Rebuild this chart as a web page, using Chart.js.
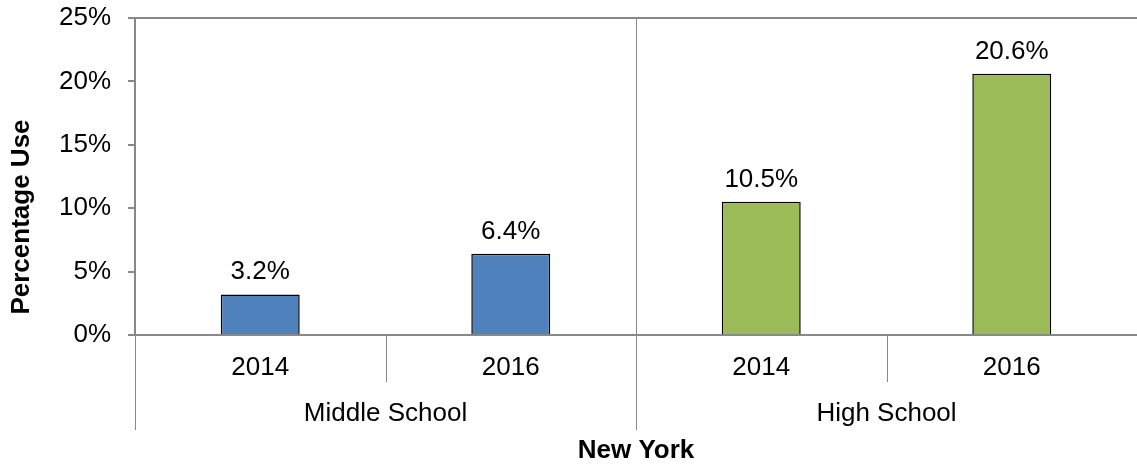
<!DOCTYPE html>
<html>
<head>
<meta charset="utf-8">
<script src="https://cdn.jsdelivr.net/npm/chart.js@4"></script>
<style>
    html, body { margin: 0; padding: 0; background: #fff; }
    #wrap { width: 1137px; height: 466px; }
</style>
</head>
<body>
<div id="wrap"><canvas id="useChart"></canvas></div>
<script>
// chart values
var years = ['2014', '2016', '2014', '2016'];
var groups = ['Middle School', 'High School'];
var groupSize = [2, 2];
var useValues = [3.2, 6.4, 10.5, 20.6];
var barColors = ['#4F81BD', '#4F81BD', '#9BBB59', '#9BBB59'];
var yTicks = [0, 5, 10, 15, 20, 25];
var yTitle = 'Percentage Use';
var xTitle = 'New York';

var FONT = "'Liberation Sans', Arial, sans-serif";
var GRAY = '#888888';

// draws the value labels, category separators, group labels and y title
var extrasPlugin = {
    id: 'extras',
    afterDraw: function (chart) {
        var ctx = chart.ctx;
        var x = chart.scales.x;
        var area = chart.chartArea;
        var meta = chart.getDatasetMeta(0);

        ctx.save();
        ctx.font = '26px ' + FONT;
        ctx.fillStyle = '#000';
        ctx.textAlign = 'center';
        ctx.textBaseline = 'alphabetic';
        meta.data.forEach(function (bar, i) {
            ctx.fillText(useValues[i].toFixed(1) + '%', bar.x, bar.y - 15);
        });

        ctx.strokeStyle = GRAY;
        ctx.lineWidth = 1;
        var half = (x.getPixelForValue(1) - x.getPixelForValue(0)) / 2;
        var start = 0;
        // left axis extension
        ctx.beginPath();
        ctx.moveTo(area.left + 0.5, area.bottom);
        ctx.lineTo(area.left + 0.5, 430);
        ctx.stroke();
        groups.forEach(function (g, gi) {
            var end = start + groupSize[gi];
            for (var i = start; i < end - 1; i++) {
                var bx = Math.round(x.getPixelForValue(i) + half) + 0.5;
                ctx.beginPath();
                ctx.moveTo(bx, area.bottom);
                ctx.lineTo(bx, 382);
                ctx.stroke();
            }
            var left = x.getPixelForValue(start) - half;
            var right = x.getPixelForValue(end - 1) + half;
            if (gi < groups.length - 1) {
                var sx = Math.round(right) + 0.5;
                ctx.beginPath();
                ctx.moveTo(sx, area.top);
                ctx.lineTo(sx, 430);
                ctx.stroke();
            }
            ctx.fillStyle = '#000';
            ctx.textBaseline = 'middle';
            ctx.fillText(g, (left + right) / 2, 414);
            start = end;
        });

        // y axis title
        ctx.translate(22, 217);
        ctx.rotate(-Math.PI / 2);
        ctx.font = 'bold 26px ' + FONT;
        ctx.textBaseline = 'middle';
        ctx.fillText(yTitle, 0, 0);
        ctx.restore();
    }
};

new Chart(document.getElementById('useChart'), {
    type: 'bar',
    data: {
        labels: years,
        datasets: [{
            data: useValues,
            backgroundColor: barColors,
            borderColor: '#000',
            borderWidth: 1.5,
            borderSkipped: 'bottom',
            categoryPercentage: 1,
            barPercentage: 0.315
        }]
    },
    options: {
        responsive: true,
        maintainAspectRatio: false,
        animation: false,
        layout: { padding: { top: 18, right: 0, left: 0, bottom: 0 } },
        plugins: {
            legend: { display: false },
            tooltip: { enabled: false }
        },
        scales: {
            x: {
                afterFit: function (s) { s.height = 131; },
                grid: { display: false, drawTicks: false },
                border: { display: true, color: GRAY, width: 2 },
                ticks: {
                    color: '#000',
                    font: { family: FONT, size: 26 },
                    padding: 17,
                    maxRotation: 0
                },
                title: {
                    display: true,
                    text: xTitle,
                    color: '#000',
                    font: { family: FONT, size: 26, weight: 'bold' },
                    padding: { top: 0, bottom: 0 }
                }
            },
            y: {
                min: 0,
                max: 25,
                afterFit: function (s) {
                    s.width = 135;
                    s.paddingTop = 0;
                    s.paddingBottom = 0;
                },
                afterBuildTicks: function (s) {
                    s.ticks = yTicks.map(function (v) { return { value: v }; });
                },
                grid: {
                    color: function (c) { return c.tick && c.tick.value === 25 ? GRAY : 'rgba(0,0,0,0)'; },
                    tickColor: GRAY,
                    tickLength: 7,
                    lineWidth: 2
                },
                border: { display: true, color: GRAY, width: 2 },
                ticks: {
                    color: '#000',
                    font: { family: FONT, size: 26 },
                    padding: 17,
                    callback: function (v) { return v + '%'; }
                }
            }
        }
    },
    plugins: [extrasPlugin]
});
</script>
</body>
</html>
